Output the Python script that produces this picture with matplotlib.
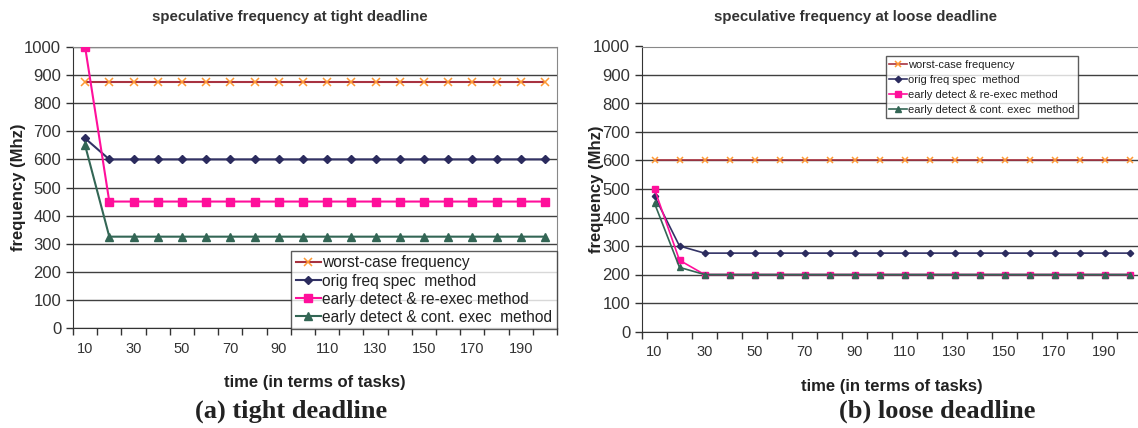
import numpy as np
import matplotlib.pyplot as plt

plt.rcParams['font.family'] = ['Liberation Sans', 'DejaVu Sans']

tasks = [10, 20, 30, 40, 50, 60, 70, 80, 90, 100,
         110, 120, 130, 140, 150, 160, 170, 180, 190, 200]
n = len(tasks)

# tight deadline series
tight_worst = [875] * n
tight_orig = [675] + [600] * (n - 1)
tight_reexec = [1000] + [450] * (n - 1)
tight_cont = [650] + [325] * (n - 1)

# loose deadline series
loose_worst = [600] * n
loose_orig = [475, 300] + [275] * (n - 2)
loose_reexec = [500, 250] + [200] * (n - 2)
loose_cont = [450, 225] + [200] * (n - 2)

labels = ['worst-case frequency', 'orig freq spec  method',
          'early detect & re-exec method', 'early detect & cont. exec  method']

fig = plt.figure(figsize=(11.38, 4.28), dpi=100)
ax1 = fig.add_axes([73 / 1138, 1 - 328 / 428, 484 / 1138, 281 / 428])
ax2 = fig.add_axes([642 / 1138, 1 - 331.5 / 428, 500 / 1138, 285 / 428])


def draw(ax, series, ms, lw, ylab_x, leg_kw):
    x = np.arange(n)
    w, o, r, c = series
    ax.plot(x, w, color='#a83240', lw=lw, marker='x', ms=ms * 0.85, mec='#ff9933',
            mew=1.1, label=labels[0], zorder=3)
    ax.plot(x, o, color='#333366', lw=lw, marker='D', ms=ms * 0.65, mfc='#2b2b5e',
            mec='#2b2b5e', label=labels[1], zorder=4)
    ax.plot(x, r, color='#ff0f9b', lw=lw, marker='s', ms=ms * 0.85, mfc='#ff0f9b',
            mec='#ff0f9b', label=labels[2], zorder=5)
    ax.plot(x, c, color='#336655', lw=lw, marker='^', ms=ms * 0.8, mfc='#336655',
            mec='#336655', label=labels[3], zorder=6)

    ax.set_xlim(-0.5, n - 0.5)
    ax.set_ylim(0, 1000)
    ax.set_yticks(np.arange(0, 1001, 100))
    ax.yaxis.grid(True, color='#404040', lw=1)
    ax.set_axisbelow(True)
    ax.tick_params(axis='y', labelsize=12, colors='#333333', length=5, width=1,
                   direction='out')
    ax.set_xticks(np.arange(0, n, 2))
    ax.set_xticklabels([str(t) for t in tasks[::2]])
    ax.set_xticks(np.arange(-0.5, n, 1), minor=True)
    ax.tick_params(axis='x', which='major', length=0, labelsize=10.5,
                   colors='#333333', pad=10)
    ax.tick_params(axis='x', which='minor', length=5, width=1, color='#333333')
    for s in ax.spines.values():
        s.set_color('#888888')
    ax.spines['left'].set_color('#333333')
    ax.spines['bottom'].set_color('#333333')
    ax.set_ylabel('frequency (Mhz)', fontsize=12, fontweight='bold', color='#222222')
    ax.yaxis.set_label_coords(ylab_x, 0.5)
    ax.set_xlabel('time (in terms of tasks)', fontsize=12, fontweight='bold',
                  color='#222222', labelpad=14)
    leg = ax.legend(**leg_kw, frameon=True, fancybox=False, handletextpad=0.1,
                    borderaxespad=0, borderpad=0.3)
    leg.get_frame().set_edgecolor('#333333')
    leg.get_frame().set_linewidth(1)
    for t in leg.get_texts():
        t.set_color('#222222')
    leg.set_zorder(10)


draw(ax1, (tight_worst, tight_orig, tight_reexec, tight_cont), 7, 1.5, -0.097,
     dict(loc='lower right', bbox_to_anchor=(1.0, -0.005), fontsize=11.2,
          handlelength=1.6, labelspacing=0.2))
draw(ax2, (loose_worst, loose_orig, loose_reexec, loose_cont), 5, 1.2, -0.076,
     dict(loc='upper left', bbox_to_anchor=(0.488, 0.965), fontsize=8,
          handlelength=1.6, labelspacing=0.45))

fig.text(290 / 1138, 1 - 17 / 428, 'speculative frequency at tight deadline',
         ha='center', va='center', fontsize=10.8, fontweight='bold', color='#333333')
fig.text(855 / 1138, 1 - 17 / 428, 'speculative frequency at loose deadline',
         ha='center', va='center', fontsize=10.8, fontweight='bold', color='#333333')

fig.text(291 / 1138, 1 - 411 / 428, '(a) tight deadline', ha='center', va='center',
         fontsize=19, fontweight='bold', family='Liberation Serif', color='#222222')
fig.text(937 / 1138, 1 - 411 / 428, '(b) loose deadline', ha='center', va='center',
         fontsize=19, fontweight='bold', family='Liberation Serif', color='#222222')

fig.savefig('out.png', dpi=100)
